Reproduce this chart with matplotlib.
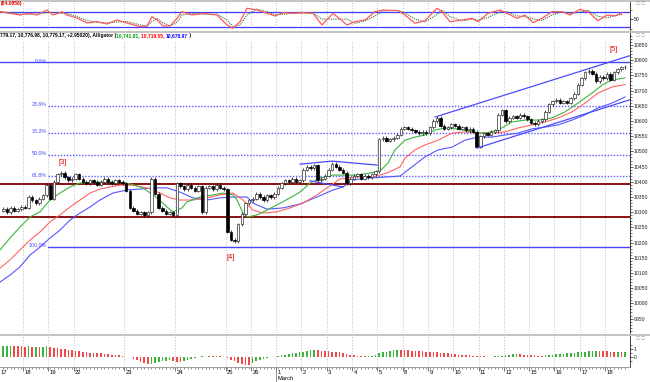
import numpy as np
import matplotlib
matplotlib.use("Agg")
import matplotlib.pyplot as plt
from matplotlib.patches import Rectangle
from matplotlib.transforms import blended_transform_factory
from matplotlib.ticker import FixedLocator, MultipleLocator, NullFormatter, FormatStrFormatter

plt.rcParams['font.family'] = ['Liberation Sans', 'DejaVu Sans']

# ---------------- data ----------------
first_open = 10305.0
closes = [
    10312, 10300, 10315, 10305, 10310, 10318,                          # Feb 17
    10315, 10350, 10340, 10330, 10345, 10355, 10390,                   # Feb 18
    10345, 10400, 10425, 10430, 10415, 10405, 10410,                   # Feb 19
    10425, 10410, 10400, 10395, 10405, 10400, 10390, 10400, 10410, 10400, 10395, 10405, 10400, 10395,  # Feb 22
    10370, 10315, 10305, 10295, 10300, 10290, 10300, 10410, 10360, 10315, 10305, 10295, 10300, 10290,  # Feb 23
    10395, 10385, 10375, 10390, 10380, 10370, 10385, 10300, 10380, 10385, 10375, 10390, 10380, 10375,  # Feb 24
    10235, 10210, 10205, 10260, 10295, 10330, 10340,                   # Feb 25
    10345, 10360, 10350, 10340, 10355, 10350, 10360,                   # Feb 26
    10380, 10395, 10405, 10400, 10410, 10400, 10405,                   # Mar 1
    10440, 10450, 10445, 10455, 10405, 10410, 10420,                   # Mar 2
    10440, 10460, 10450, 10440, 10430, 10395, 10410,                   # Mar 3
    10420, 10425, 10410, 10420, 10415, 10425, 10435,                   # Mar 4
    10540, 10545, 10535, 10540, 10545, 10555, 10575,                   # Mar 5
    10580, 10575, 10570, 10565, 10560, 10565, 10560,                   # Mar 8
    10580, 10600, 10610, 10585, 10575, 10580, 10590,                   # Mar 9
    10585, 10575, 10580, 10570, 10575, 10565, 10515,                   # Mar 10
    10550, 10560, 10555, 10565, 10570, 10620, 10635,                   # Mar 11
    10600, 10610, 10615, 10610, 10620, 10615, 10605,                   # Mar 12
    10595, 10590, 10600, 10605, 10630, 10655, 10665,                   # Mar 15
    10670, 10660, 10665, 10660, 10675, 10690, 10720,                   # Mar 16
    10740, 10760, 10765, 10755, 10730, 10745, 10740,                   # Mar 17
    10755, 10735, 10760, 10770, 10776, 10779.17,                       # Mar 18
]

day_bounds = [5.5, 12.5, 19.5, 33.5, 47.5, 61.5, 68.5, 75.5, 82.5, 89.5, 96.5,
              103.5, 110.5, 117.5, 124.5, 131.5, 138.5, 145.5, 152.5, 159.5, 166.5]
day_labels = ["18", "19", "22", "23", "24", "25", "26", "1", "2", "3", "4", "5",
              "8", "9", "10", "11", "12", "15", "16", "17", "18"]
first_day_label = "17"
month_bound = 75.5
month_label = "March"

# Alligator lines (bar position, price)
lips_x = [-0.9, 1.85, 4.62, 7.39, 10.15, 12.92, 15.69, 18.46, 21.22, 26.76, 32.29, 35.06, 38.66, 42.53,
          45.30, 46.96, 49.45, 50.83, 54.43, 58.02, 60.79, 63.56, 64.66, 66.33, 67.71, 70.20, 72.97,
          75.73, 79.33, 82.10, 84.87, 87.63, 91.23, 95.1, 97.87, 101.47, 104.24, 106.46, 108.39,
          111.16, 113.92, 116.69, 119.46, 122.22, 125.82, 129.70, 133.29, 136.89, 140.76, 144.36,
          147.96, 151.83, 155.43, 159.03, 162.90, 165.67, 168.44, 172]
lips_y = [10176, 10215, 10251, 10284, 10301, 10340, 10363, 10383, 10396, 10399, 10399, 10393, 10380, 10347,
          10317, 10301, 10314, 10334, 10350, 10357, 10363, 10357, 10340, 10297, 10284, 10291, 10307,
          10324, 10347, 10366, 10396, 10412, 10422, 10422, 10422, 10429, 10435, 10462, 10505,
          10537, 10547, 10554, 10570, 10577, 10574, 10564, 10560, 10570, 10597, 10603,
          10603, 10610, 10630, 10659, 10692, 10718, 10735, 10741.81]
teeth_x = [-0.9, 1.85, 4.62, 7.39, 10.15, 12.92, 15.69, 18.46, 21.22, 23.99, 26.76, 29.52, 32.29, 35.89,
           39.76, 43.36, 46.13, 48.89, 52.49, 56.36, 59.96, 63.56, 66.33, 69.09, 71.86, 75.73, 79.33,
           82.93, 86.80, 89.57, 93.17, 97.87, 102.30, 106.18, 109.77, 111.16, 113.92, 116.69, 120.29,
           124.16, 127.76, 131.36, 135.23, 138.83, 142.42, 146.30, 149.89, 153.49, 157.37, 160.97,
           164.56, 168.44, 172]
teeth_y = [10116, 10143, 10176, 10208, 10235, 10268, 10291, 10317, 10340, 10363, 10376, 10383, 10389, 10389,
           10380, 10363, 10347, 10340, 10340, 10347, 10357, 10363, 10340, 10307, 10297, 10301, 10314,
           10330, 10357, 10380, 10409, 10416, 10416, 10429, 10449, 10478, 10505, 10521, 10537,
           10560, 10564, 10560, 10560, 10564, 10577, 10587, 10597, 10610, 10630, 10659,
           10692, 10712, 10719.55]
jaw_x = [-0.9, 1.85, 4.62, 7.39, 10.15, 12.92, 15.69, 18.46, 21.22, 23.99, 26.76, 30.35, 34.23, 37.83,
         41.42, 45.30, 48.89, 52.49, 56.36, 59.96, 63.56, 67.43, 69.09, 72.97, 77.39, 82.10, 86.80,
         91.23, 94.0, 96.76, 100.64, 106.18, 109.77, 113.09, 116.69, 120.29, 124.16, 127.76, 131.36,
         135.23, 138.83, 142.42, 146.30, 149.89, 153.49, 157.37, 160.97, 164.56, 168.44, 172]
jaw_y = [10070, 10093, 10120, 10159, 10185, 10215, 10241, 10274, 10297, 10317, 10340, 10363, 10373, 10376,
         10380, 10380, 10366, 10347, 10340, 10347, 10350, 10350, 10330, 10310, 10314, 10327, 10350,
         10373, 10383, 10406, 10412, 10416, 10419, 10449, 10482, 10505, 10514, 10537, 10547,
         10547, 10554, 10560, 10574, 10580, 10587, 10603, 10620, 10643, 10659, 10678.97]

# Fibonacci retracement
fib_high = 10793
fib_low = 10186
fib_ratios = [0.0, 0.236, 0.382, 0.5, 0.618, 1.0]
fib_texts = ["0.0%", "23.6%", "38.2%", "50.0%", "61.8%", "100.0%"]
fib_start = 12.4

# Support / resistance lines
sr_levels = [10392, 10283]

# Drawn trend lines (bar, price)
trendlines = [
    ([119.46, 174.2], [10613, 10818]),
    ([131.08, 174.2], [10511, 10673]),
    ([82.1, 90.95, 103.41], [10458, 10468, 10455]),
    ([84.87, 94.0], [10403, 10383]),
]

# Wave labels
wave_labels = ["[3]", "[4]", "[5]"]
wave_x = [16.3, 63.0, 169.0]
wave_y = [10465, 10152, 10834]

# Oscillator (top panel)
osc_x = [-0.9, 1.85, 4.62, 7.39, 9.32, 12.09, 13.75, 16.24, 17.63, 20.39, 23.16, 25.93, 28.69, 31.46,
         34.23, 37.83, 39.76, 41.15, 42.53, 44.19, 46.13, 48.06, 49.45, 52.21, 55.26, 59.13, 61.90,
         63.56, 65.50, 67.43, 70.20, 72.97, 75.18, 77.39, 80.16, 82.93, 85.70, 88.18, 91.23, 95.1,
         97.31, 100.08, 102.85, 105.07, 109.22, 111.16, 113.92, 116.69, 120.01, 121.39, 123.61,
         126.93, 129.70, 131.36, 134.12, 137.44, 139.38, 142.15, 144.36, 146.57, 149.06, 151.83,
         154.60, 156.81, 159.58, 161.80, 164.56, 167.05, 169.27, 171.20]
osc_v = [82.5, 75.8, 68.7, 75.8, 68.7, 89.6, 68.7, 82.5, 68.7, 56.2, 35.4, 40.8, 31.2, 47.9,
         35.4, 20.0, 22.9, 61.7, 47.9, 22.9, 22.9, 55.0, 82.5, 68.7, 75.8, 68.7, 27.1,
         13.3, 40.8, 96.7, 89.6, 75.8, 64.6, 78.3, 75.8, 78.3, 75.8, 27.1, 75.8, 27.1,
         40.8, 47.9, 82.5, 89.6, 86.7, 68.7, 34.2, 45.0, 96.7, 82.5, 40.8,
         47.9, 55.0, 40.8, 75.8, 89.6, 75.8, 55.0, 68.7, 36.7, 55.0, 82.5,
         82.5, 68.7, 92.5, 82.5, 45.0, 68.7, 64.6, 78.3]
osc_levels = [80, 20]
osc_header = "(84.0958)"

# Histogram oscillator (bottom panel), one value per bar
hist = [
    1.38, 1.40, 1.42,
    1.40, 1.37, 1.35, 1.33,
    1.36, 1.30, 1.33, 1.27, 1.31, 1.40,
    1.30, 1.22, 1.15, 1.08, 1.02, 0.97, 0.92,
    0.78, 0.73, 0.68, 0.64, 0.60, 0.56, 0.52, 0.48,
    0.44, 0.40, 0.35, 0.30, 0.25, 0.18, 0.10, 0.02,
    -0.15, -0.35, -0.55, -0.72, -0.85,
    -0.80, -0.72, -0.62, -0.52, -0.45, -0.38,
    -0.45, -0.55, -0.60,
    -0.45, -0.30, -0.15, -0.05, 0.05, 0.12, 0.10, 0.16, 0.13, 0.18, 0.15, 0.10,
    -0.10, -0.30, -0.50, -0.70, -0.85, -0.95, -0.98,
    -0.75, -0.50,
    -0.30, -0.15, -0.05, 0.02, 0.06,
    0.15, 0.25, 0.33, 0.42, 0.50, 0.57, 0.64, 0.72, 0.78, 0.85, 0.90,
    0.88, 0.84, 0.80, 0.76, 0.72, 0.68, 0.62, 0.55,
    0.45, 0.35, 0.28, 0.22, 0.18, 0.15, 0.17, 0.20,
    0.35, 0.50, 0.62, 0.72, 0.80, 0.87, 0.92,
    0.90, 0.88, 0.85, 0.82, 0.80, 0.78, 0.75, 0.72, 0.70, 0.66, 0.62, 0.58, 0.53, 0.48,
    0.43, 0.38, 0.33, 0.30, 0.26, 0.23, 0.20, 0.17, 0.14, 0.12, 0.10, 0.09, 0.12, 0.16,
    0.22, 0.28, 0.33, 0.37, 0.40, 0.38, 0.35,
    0.31, 0.28, 0.25, 0.22, 0.20, 0.23, 0.27,
    0.32, 0.37, 0.42, 0.46, 0.50, 0.54, 0.58, 0.62, 0.66, 0.70, 0.74, 0.78, 0.82,
    0.80, 0.78, 0.75, 0.72, 0.70, 0.72, 0.71, 0.72,
]

header_parts = [
    ("779.17, 10,776.98, 10,779.17, +2.95020), Alligator (", "#000000"),
    ("10,741.81, ", "#00a000"),
    ("10,719.55, ", "#ff0000"),
    ("10,678.97", "#0000ff"),
    (" )", "#000000"),
]

# ---------------- figure ----------------
W, H = 650, 382
fig = plt.figure(figsize=(6.5, 3.82), dpi=100)
fig.patch.set_facecolor("white")


def fy(px):
    return 1 - px / H


RIGHT = 630 / W
ax_top = fig.add_axes([0, fy(30), RIGHT, 28 / H])
ax_main = fig.add_axes([0, fy(333), RIGHT, 300 / H])
ax_bot = fig.add_axes([0, fy(367), RIGHT, 31 / H])

XLIM = (-0.91, 173.4)
TICKFS = 3.7
DATEFS = 4.2
GRID = dict(color="#a8a8a8", lw=0.6, ls=(0, (1, 2.2)))

for ax in (ax_top, ax_main, ax_bot):
    ax.set_xlim(*XLIM)
    for s in ("left", "top", "bottom"):
        ax.spines[s].set_visible(False)
    ax.spines["right"].set_color("#202020")
    ax.spines["right"].set_linewidth(0.6)
    ax.yaxis.tick_right()
    ax.tick_params(axis="y", which="major", length=2.0, width=0.5, labelsize=TICKFS, pad=0.8, colors="#202020")
    ax.tick_params(axis="y", which="minor", length=1.2, width=0.4, colors="#202020")
    ax.set_xticks([])

# ---- top oscillator ----
ax_top.set_ylim(6.2, 122.9)
for b in day_bounds:
    ax_top.axvline(b, **GRID)
for lv in osc_levels:
    ax_top.axhline(lv, color="#3c3cff", lw=0.9)
ov = np.array(osc_v, dtype=float)
sig = np.concatenate([[ov[0]], (ov[1:] + ov[:-1]) / 2.0])
ax_top.plot(osc_x, sig, color="#3f6a3f", lw=0.8, ls=(0, (1, 1)))
ax_top.plot(osc_x, ov, color="#ff5a5a", lw=0.9)
ax_top.yaxis.set_major_locator(FixedLocator([50]))
ax_top.yaxis.set_minor_locator(FixedLocator([10, 90]))
ax_top.yaxis.set_major_formatter(FormatStrFormatter("%d"))

# ---- main price panel ----
ax_main.set_ylim(9902.5, 10889.5)
for b in day_bounds:
    ax_main.axvline(b, ymax=0.975, **GRID)

# fib levels
for r, t in zip(fib_ratios, fib_texts):
    lvl = fib_high - r * (fib_high - fib_low)
    if r in (0.0, 1.0):
        x0 = XLIM[0] if r == 0.0 else fib_start
        ax_main.plot([x0, XLIM[1]], [lvl, lvl], color="#4646ff", lw=1.0, zorder=2)
    else:
        ax_main.plot([fib_start, XLIM[1]], [lvl, lvl], color="#5a5aff", lw=1.0,
                     ls=(0, (1, 1.2)), zorder=2)
    ax_main.text(fib_start - 0.3, lvl + 3, t, color="#4646ff", fontsize=3.8,
                 ha="right", va="center")

for lv in sr_levels:
    ax_main.axhline(lv, color="#8c1010", lw=1.4, zorder=2)

# alligator
ax_main.plot(jaw_x, jaw_y, color="#5555ff", lw=0.8, zorder=3)
ax_main.plot(teeth_x, teeth_y, color="#ff6464", lw=0.8, zorder=3)
ax_main.plot(lips_x, lips_y, color="#3cb43c", lw=0.8, zorder=3)

# candles
c = np.array(closes, dtype=float)
o = np.concatenate([[first_open], c[:-1]])
idx = np.arange(len(c))
up = c >= o
lo = np.minimum(o, c)
hi = np.maximum(o, c)
bh = np.maximum(hi - lo, 1.8)
wick = 5.0
ax_main.vlines(idx, lo - wick, lo + bh + wick, color="#000000", lw=0.5, zorder=4)
ax_main.bar(idx[up], bh[up], bottom=lo[up], width=0.7, color="white",
            edgecolor="#303030", linewidth=0.5, zorder=5)
ax_main.bar(idx[~up], bh[~up], bottom=lo[~up], width=0.7, color="#000000",
            edgecolor="#000000", linewidth=0.5, zorder=5)

# trend lines
for xs, ys in trendlines:
    ax_main.plot(xs, ys, color="#4a4aff", lw=0.9, zorder=6)

for t, x, y in zip(wave_labels, wave_x, wave_y):
    ax_main.text(x, y, t, color="#e00000", fontsize=5.3, ha="center", va="center", zorder=7)

ax_main.yaxis.set_major_locator(MultipleLocator(50))
ax_main.yaxis.set_minor_locator(MultipleLocator(10))
ax_main.yaxis.set_major_formatter(FormatStrFormatter("%d"))
ax_main.set_ylim(9902.5, 10889.5)

# ---- bottom histogram ----
ax_bot.set_ylim(-1.21, 2.66)
for b in day_bounds:
    ax_bot.axvline(b, **GRID)
hv = np.array(hist, dtype=float)
prev = np.concatenate([[hv[0] - 1], hv[:-1]])
cols = np.where(hv >= prev, "#3cb43c", "#f04848")
ax_bot.bar(np.arange(len(hv)), hv, width=0.45, color=cols, linewidth=0, zorder=3)
ax_bot.yaxis.set_major_locator(FixedLocator([0, 1]))
ax_bot.yaxis.set_minor_locator(FixedLocator([-0.5, 0.5, 1.5]))
ax_bot.yaxis.set_major_formatter(FormatStrFormatter("%d"))
ax_bot.spines["bottom"].set_visible(True)
ax_bot.spines["bottom"].set_color("#909090")
ax_bot.spines["bottom"].set_linewidth(0.6)
ax_bot.set_xticks(day_bounds)
ax_bot.set_xticklabels([])
ax_bot.xaxis.set_minor_locator(FixedLocator(np.arange(len(c))))
ax_bot.tick_params(axis="x", which="major", length=3, width=0.5, colors="#404040")
ax_bot.tick_params(axis="x", which="minor", length=1.5, width=0.4, colors="#404040")

trans = blended_transform_factory(ax_bot.transData, fig.transFigure)
lab_y = fy(372.5)
ax_bot.text(XLIM[0] + 0.2, lab_y, first_day_label, transform=trans, fontsize=DATEFS,
            ha="left", va="center", clip_on=False,
            bbox=dict(facecolor="white", edgecolor="none", pad=0.2))
for b, lab in zip(day_bounds, day_labels):
    ax_bot.text(b + 0.4, lab_y, lab, transform=trans, fontsize=DATEFS, ha="left",
                va="center", clip_on=False,
                bbox=dict(facecolor="white", edgecolor="none", pad=0.2))
ax_bot.plot([month_bound, month_bound], [fy(367), fy(382)], transform=trans,
            color="#808080", lw=0.6, clip_on=False)
ax_bot.text(month_bound + 0.4, fy(379), month_label, transform=trans, fontsize=DATEFS,
            ha="left", va="center", clip_on=False)

# ---- separators / headers ----
for y0, y1 in [(0, 1.5), (30.5, 33), (333.5, 336)]:
    fig.patches.append(Rectangle((0, fy(y1)), 1, (y1 - y0) / H, transform=fig.transFigure,
                                 facecolor="#c4c4c4", edgecolor="none", zorder=10))

fig.text(0.001, fy(3.5), osc_header, color="#e00000", fontsize=3.6, fontweight="bold",
         ha="left", va="center", zorder=11)

fig.canvas.draw()
rend = fig.canvas.get_renderer()
hx = 0.0
for txt, col in header_parts:
    t = fig.text(hx, fy(36), txt, color=col, fontsize=3.6, fontweight="bold",
                 ha="left", va="center", zorder=11)
    hx += t.get_window_extent(renderer=rend).width / fig.bbox.width

for py in (3.5, 35.5, 338.5):
    fig.text(0.992, fy(py), "\u25a1 \u25a1", color="#8a8a8a", fontsize=3.0,
             ha="right", va="center", family=["DejaVu Sans"], zorder=11)

fig.savefig("out.png", dpi=100, facecolor="white")
